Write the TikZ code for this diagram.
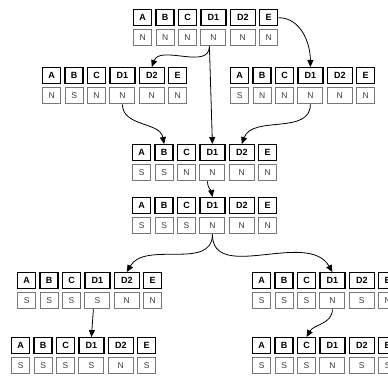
\documentclass[tikz,border=0pt]{standalone}
\usepackage{fontspec}
\setmainfont{Liberation Sans}
\usetikzlibrary{arrows.meta, positioning}
\definecolor{cellgray}{RGB}{120,120,120}
\definecolor{valtext}{RGB}{60,60,60}

% one state table: name, top-left corner, values of A B C D1 D2 E
\newcommand{\statetbl}[8]{%
  \node[hd, anchor=north west] (#1-A) at (#2) {A};
  \node[hd, right=3pt of #1-A] (#1-B) {B};
  \node[hd, right=3pt of #1-B] (#1-C) {C};
  \node[hd, wide, right=3pt of #1-C] (#1-D1) {D1};
  \node[hd, wide, right=3pt of #1-D1] (#1-D2) {D2};
  \node[hd, right=3pt of #1-D2] (#1-E) {E};
  \foreach \c/\v/\w in {A/#3/18, B/#4/18, C/#5/18, D1/#6/25, D2/#7/25, E/#8/18}
    \node[vl, minimum width=\w pt, below=3pt of #1-\c] (#1-v\c) {\v};
}

\begin{document}
\begin{tikzpicture}[x=1pt, y=-1pt,
      hd/.style={draw=black, line width=1.4pt, fill=white, inner sep=0pt,
                 minimum width=18pt, minimum height=16pt,
                 font=\fontsize{9}{10}\selectfont\bfseries},
      wide/.style={minimum width=25pt},
      vl/.style={draw=cellgray, line width=0.9pt, fill=white, inner sep=0pt,
                 minimum height=16pt, text=valtext,
                 font=\fontsize{8.5}{9}\selectfont},
      link/.style={draw=black, line width=0.8pt,
                   -{Triangle[length=7pt, width=6pt]}}]
    \useasboundingbox (0,0) rectangle (388,376);

    \statetbl{t0}{133,9}{N}{N}{N}{N}{N}{N}
    \statetbl{t1}{42,67}{N}{S}{N}{N}{N}{N}
    \statetbl{t2}{230,67}{S}{N}{N}{N}{N}{N}
    \statetbl{t3}{132,144}{S}{S}{N}{N}{N}{N}
    \statetbl{t4}{132,197}{S}{S}{S}{N}{N}{N}
    \statetbl{t5}{17,272}{S}{S}{S}{S}{N}{N}
    \statetbl{t6}{252,272}{S}{S}{S}{N}{S}{N}
    \statetbl{t7}{11,337}{S}{S}{S}{S}{N}{S}
    \statetbl{t8}{252,337}{S}{S}{S}{N}{S}{S}

    \draw[link] ([xshift=-4pt]t0-vD1.south) to[out=-90, in=70] (t1-D2.north);
    \draw[link] (t0-E.east) to[out=0, in=90] (t2-D1.north);
    \draw[link] ([xshift=-4pt]t0-vD1.south) -- (t3-D1.north);
    \draw[link] (t1-vD1.south) to[out=-90, in=100] (t3-B.north);
    \draw[link] (t2-vD1.south) to[out=-90, in=70] (t3-D2.north);
    \draw[link] ([xshift=-5pt]t3-vD1.south) to[out=-90, in=100] (t4-D1.north);
    \draw[link] (t4-vD1.south) to[out=-90, in=60] (t5-D2.north);
    \draw[link] (t4-vD1.south) to[out=-90, in=120] (t6-D1.north);
    \draw[link] ([xshift=-4pt]t5-vD1.south) -- (t7-D1.north);
    \draw[link] (t6-vD1.south) to[out=-90, in=60] (t8-C.north);
  \end{tikzpicture}
\end{document}
